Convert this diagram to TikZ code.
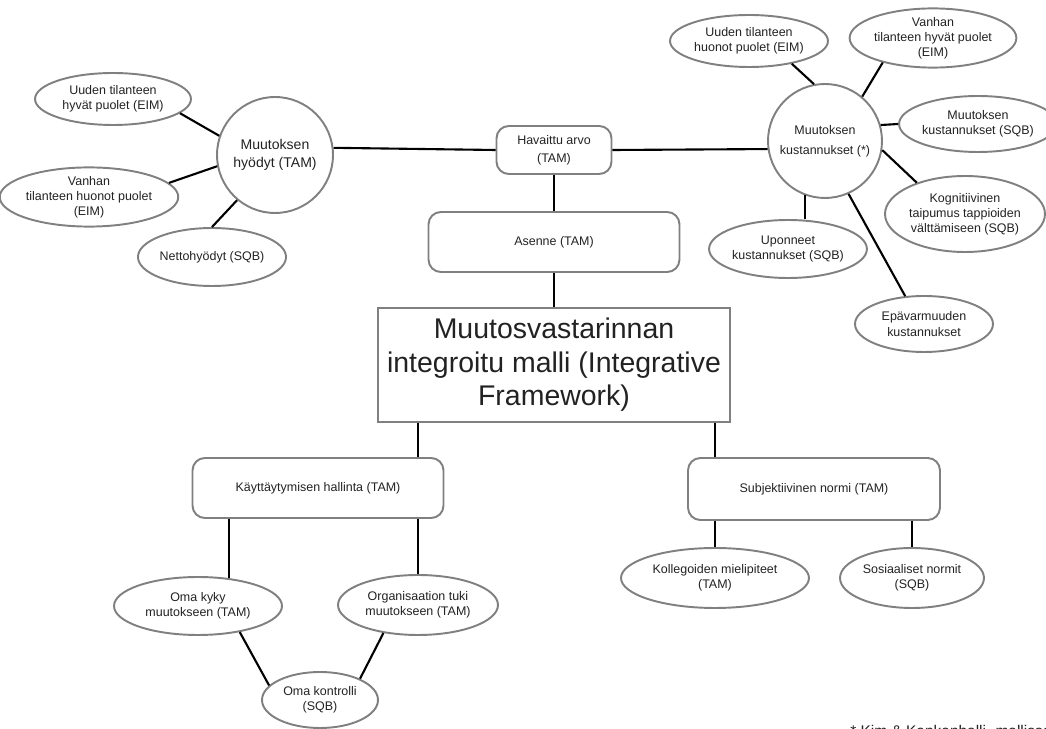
\documentclass[tikz,border=0pt]{standalone}
\usepackage{fontspec}
\setmainfont{Liberation Sans}
\usepackage{xcolor}
\usepackage{tikz}
\usetikzlibrary{shapes.geometric}
\definecolor{framegray}{RGB}{128, 128, 128}
\definecolor{inkgray}{RGB}{34, 34, 34}

\tikzset{
    oval/.style 2 args={ellipse, draw=framegray, line width=1.1pt, text=inkgray, minimum width=#1, minimum height=#2, inner sep=0pt, align=center, font=\fontsize{7.1}{8.6}\selectfont},
    ring/.style={circle, draw=framegray, line width=1.1pt, text=inkgray, minimum size=#1, inner sep=0pt, align=center, font=\fontsize{7.1}{8.6}\selectfont},
    roundbox/.style 2 args={draw=framegray, line width=1.1pt, text=inkgray, rounded corners=7pt, minimum width=#1, minimum height=#2, inner sep=1pt, align=center, font=\fontsize{7.1}{8.6}\selectfont},
    link/.style={draw=black, line width=1.2pt}
}

\begin{document}
\begin{tikzpicture}[x=0.02cm, y=-0.02cm]
        \useasboundingbox (0,0) rectangle (1046,729);

        % keskimmainen sarake
        \node[draw=framegray, line width=1.1pt, text=inkgray, minimum width=7.04cm, minimum height=2.28cm, inner sep=2pt, align=center, font=\fontsize{16.2}{19}\selectfont] (malli) at (554,365) {Muutosvastarinnan\\integroitu malli (Integrative\\Framework)};
        \node[roundbox={2.3cm}{0.96cm}] (arvo) at (554,150) {Havaittu arvo\\[1.5pt](TAM)};
        \node[roundbox={5.02cm}{1.2cm}] (asenne) at (554,242) {Asenne (TAM)};
        \node[roundbox={5.02cm}{1.2cm}] (kaytos) at (318,488) {Käyttäytymisen hallinta (TAM)};
        \node[roundbox={5.04cm}{1.24cm}] (subj) at (814,489) {Subjektiivinen normi (TAM)};

        % hyodyt
        \node[ring=2.32cm, font=\fontsize{8}{10.2}\selectfont] (hyodyt) at (275,155) {Muutoksen\\hyödyt (TAM)};
        \node[oval={3.12cm}{1.04cm}] (uusiHyvat) at (113,99) {Uuden tilanteen\\hyvät puolet (EIM)};
        \node[oval={3.12cm}{1.12cm}] (vanhaHuono) at (89,197) {Vanhan\\tilanteen huonot puolet\\(EIM)};
        \node[oval={2.76cm}{1.16cm}] (netto) at (212,257) {Nettohyödyt (SQB)};

        % kustannukset
        \node[ring=2.28cm] (kustannukset) at (825,141) {Muutoksen\\[3pt]kustannukset (*)};
        \node[oval={3.16cm}{1.04cm}] (uusiHuono) at (749,41) {Uuden tilanteen\\huonot puolet (EIM)};
        \node[oval={2.92cm}{1.08cm}] (vanhaHyvat) at (933,38) {Vanhan\\tilanteen hyvät puolet\\(EIM)};
        \node[oval={2.76cm}{1.12cm}] (muutosKust) at (978,124) {Muutoksen\\kustannukset (SQB)};
        \node[oval={3.2cm}{1.52cm}] (kognit) at (965,214) {Kognitiivinen\\taipumus tappioiden\\välttämiseen (SQB)};
        \node[oval={2.72cm}{1.16cm}] (uponneet) at (788,249) {Uponneet\\kustannukset (SQB)};
        \node[oval={2.76cm}{1.12cm}] (epavarma) at (924,324) {Epävarmuuden\\kustannukset};

        % alaosa
        \node[oval={3.36cm}{1.16cm}] (omaKyky) at (198,606) {Oma kyky\\muutokseen (TAM)};
        \node[oval={3.2cm}{1.2cm}] (orgTuki) at (418,605) {Organisaation tuki\\muutokseen (TAM)};
        \node[oval={2.32cm}{1.12cm}] (omaKontrolli) at (320,700) {Oma kontrolli\\(SQB)};
        \node[oval={3.76cm}{1.2cm}] (kollegat) at (715,578) {Kollegoiden mielipiteet\\(TAM)};
        \node[oval={2.88cm}{1.2cm}] (sosiaaliset) at (912,578) {Sosiaaliset normit\\(SQB)};

        \node[anchor=base west, inner sep=0pt, text=inkgray, font=\fontsize{8.8}{10}\selectfont] (viite) at (850,737) {* Kim \& Kankanhalli -mallissa};

        % yhteydet
        \draw[link] (uusiHyvat.-12) -- (hyodyt.161);
        \draw[link] (vanhaHuono.10) -- (hyodyt.191);
        \draw[link] (netto.north) -- (hyodyt.230);
        \draw[link] (hyodyt.7) -- (arvo.west);
        \draw[link] (arvo.east) -- (kustannukset.188);
        \draw[link] (arvo.south) -- (asenne.north);
        \draw[link] (asenne.south) -- (malli.north);

        \draw[link] (kustannukset.101) -- (uusiHuono.-28);
        \draw[link] (kustannukset.50) -- (vanhaHyvat.206);
        \draw[link] (kustannukset.16) -- (muutosKust.west);
        \draw[link] (kustannukset.-9) -- (kognit.147);
        \draw[link] (kustannukset.250) -- (kustannukset.250 |- uponneet.north);
        \draw[link] (kustannukset.-66) -- (epavarma.124);

        \draw[link] (malli.south -| orgTuki.north) -- (kaytos.north -| orgTuki.north);
        \draw[link] (kaytos.south -| orgTuki.north) -- (orgTuki.north);
        \draw[link] (kaytos.south -| omaKyky.42) -- (omaKyky.42);
        \draw[link] (omaKyky.-32) -- (omaKontrolli.164);
        \draw[link] (orgTuki.219) -- (omaKontrolli.28);

        \draw[link] (malli.south -| kollegat.north) -- (subj.north -| kollegat.north);
        \draw[link] (subj.south -| kollegat.north) -- (kollegat.north);
        \draw[link] (subj.south -| sosiaaliset.north) -- (sosiaaliset.north);
    \end{tikzpicture}
\end{document}
